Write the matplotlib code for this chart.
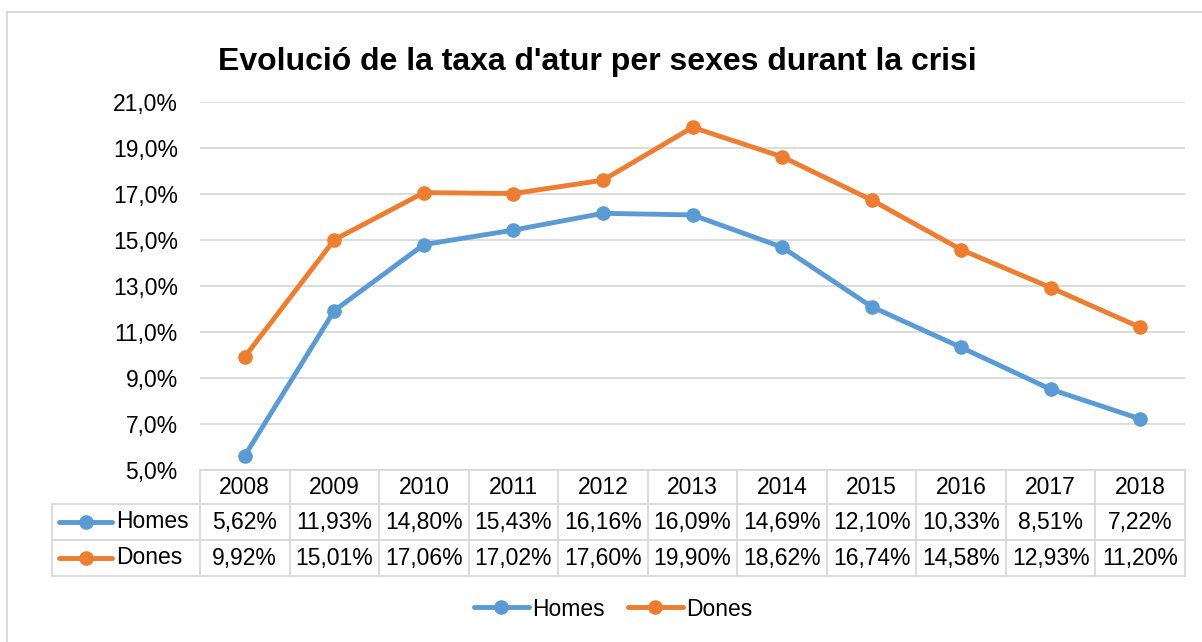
import matplotlib
matplotlib.use("Agg")
import matplotlib.pyplot as plt
from matplotlib.lines import Line2D
from matplotlib.patches import Rectangle
from matplotlib.transforms import blended_transform_factory

plt.rcParams['font.family'] = ['Liberation Sans', 'DejaVu Sans']

years = ['2008', '2009', '2010', '2011', '2012', '2013', '2014', '2015', '2016', '2017', '2018']
homes = [5.62, 11.93, 14.80, 15.43, 16.16, 16.09, 14.69, 12.10, 10.33, 8.51, 7.22]
dones = [9.92, 15.01, 17.06, 17.02, 17.60, 19.90, 18.62, 16.74, 14.58, 12.93, 11.20]
series_names = ['Homes', 'Dones']
yticks = [5, 7, 9, 11, 13, 15, 17, 19, 21]
title = "Evolució de la taxa d'atur per sexes durant la crisi"

BLUE = '#5B9BD5'
ORANGE = '#ED7D31'
GRID = '#D9D9D9'
LW = 3.5
MS = 9.5

W, H = 1202, 642
fig = plt.figure(figsize=(W / 100, H / 100), dpi=100)

def fx(px):
    return px / W

def fy(py):
    return 1 - py / H

# outer chart border
fig.add_artist(Rectangle((fx(7), fy(700)), fx(1300), fy(12) - fy(700),
                         transform=fig.transFigure, fill=False,
                         edgecolor=GRID, linewidth=1.3))

ax = fig.add_axes([fx(200), fy(470), fx(1185) - fx(200), fy(102) - fy(470)])
x = list(range(len(years)))
ax.plot(x, homes, color=BLUE, lw=LW, marker='o', ms=MS, solid_capstyle='round', zorder=3)
ax.plot(x, dones, color=ORANGE, lw=LW, marker='o', ms=MS, solid_capstyle='round', zorder=3)
ax.set_xlim(-0.5, len(years) - 0.5)
ax.set_ylim(5, 21)
ax.set_yticks(yticks)
ax.set_yticklabels([f"{v:.1f}%".replace('.', ',') for v in yticks], fontsize=16.5)
ax.tick_params(axis='y', length=0, pad=16)
ax.set_xticks([])
for s in ax.spines.values():
    s.set_visible(False)
ax.grid(axis='y', color=GRID, lw=1.3, zorder=0)
ax.set_axisbelow(True)

fig.text(fx(597), fy(62), title, ha='center', va='center', fontsize=23, fontweight='bold')

# data table
tr = blended_transform_factory(ax.transData, fig.transFigure)
row_y = [470, 504, 540, 576]
lc = GRID
lw = 1.3
n = len(years)
ax.plot([-0.5, n - 0.5], [fy(row_y[0])] * 2, transform=tr, color=lc, lw=lw, clip_on=False)
for yy in row_y[1:]:
    ax.plot([-0.5, n - 0.5], [fy(yy)] * 2, transform=tr, color=lc, lw=lw, clip_on=False)
    fig.add_artist(Line2D([fx(52), fx(200)], [fy(yy)] * 2, transform=fig.transFigure, color=lc, lw=lw))
for i in range(n + 1):
    ax.plot([i - 0.5, i - 0.5], [fy(row_y[0]), fy(row_y[3])], transform=tr, color=lc, lw=lw, clip_on=False)
fig.add_artist(Line2D([fx(52), fx(52)], [fy(row_y[1]), fy(row_y[3])], transform=fig.transFigure, color=lc, lw=lw))

for i, yr in enumerate(years):
    ax.text(i, fy((row_y[0] + row_y[1]) / 2), yr, transform=tr, ha='center', va='center', fontsize=16.5)
    ax.text(i, fy((row_y[1] + row_y[2]) / 2), f"{homes[i]:.2f}%".replace('.', ','), transform=tr,
            ha='center', va='center', fontsize=16.5)
    ax.text(i, fy((row_y[2] + row_y[3]) / 2), f"{dones[i]:.2f}%".replace('.', ','), transform=tr,
            ha='center', va='center', fontsize=16.5)

for (name, col, r) in [(series_names[0], BLUE, 1), (series_names[1], ORANGE, 2)]:
    yc = fy((row_y[r] + row_y[r + 1]) / 2)
    fig.add_artist(Line2D([fx(59), fx(112)], [yc, yc], transform=fig.transFigure, color=col,
                          lw=LW, solid_capstyle='round'))
    fig.add_artist(Line2D([fx(86)], [yc], transform=fig.transFigure, color=col, marker='o', ms=MS))
    fig.text(fx(116), yc, name, ha='left', va='center', fontsize=16.5)

handles = [Line2D([], [], color=BLUE, lw=LW, marker='o', ms=MS, solid_capstyle='round'),
           Line2D([], [], color=ORANGE, lw=LW, marker='o', ms=MS, solid_capstyle='round')]
fig.legend(handles, series_names, loc='center', bbox_to_anchor=(fx(613), fy(609)), ncol=2,
           frameon=False, fontsize=16.5, handlelength=2.4, handletextpad=0.15, columnspacing=1.0)

fig.savefig('out.png', dpi=100)
